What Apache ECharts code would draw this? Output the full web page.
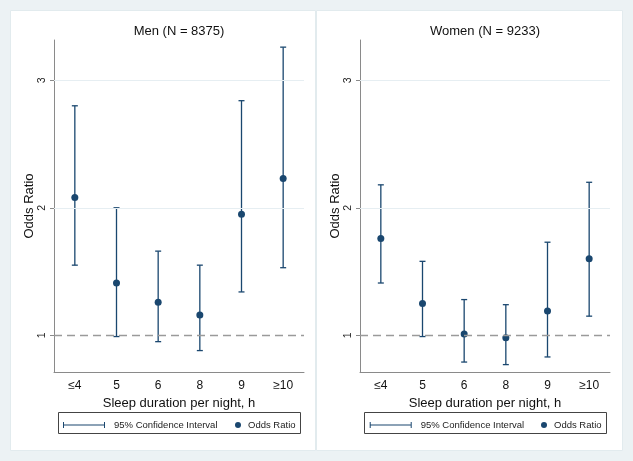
<!DOCTYPE html>
<html>
<head>
<meta charset="utf-8">
<script src="https://cdn.jsdelivr.net/npm/echarts@6/dist/echarts.min.js"></script>
<style>html,body{margin:0;padding:0;background:#ecf2f4;}#c{width:633px;height:461px;}</style>
</head>
<body>
<div id="c"></div>
<script>
const categories = ['≤4', '5', '6', '8', '9', '≥10'];
const menOR    = [2.08, 1.41, 1.26, 1.16, 1.95, 2.23];
const menLower = [1.55, 0.99, 0.95, 0.88, 1.34, 1.53];
const menUpper = [2.80, 2.00, 1.66, 1.55, 2.84, 3.26];
const womenOR    = [1.76, 1.25, 1.01, 0.98, 1.19, 1.60];
const womenLower = [1.41, 0.99, 0.79, 0.77, 0.83, 1.15];
const womenUpper = [2.18, 1.58, 1.28, 1.24, 1.73, 2.20];
const yTicks = [1, 2, 3];

const FONT = 'Liberation Sans, Arial, sans-serif';
const NAVY = '#1a476f';
const ciIcon = 'path://M0,0h1v6h-1z M0,2.5h42v1h-42z M41,0h1v6h-1z';

function ciData(lo, hi) { return categories.map((c, i) => [i, lo[i], hi[i]]); }
function orData(v) { return categories.map((c, i) => [i, v[i]]); }

function renderErr(params, api) {
  const x = api.value(0), lo = api.value(1), hi = api.value(2);
  const a = api.coord([x, hi]), b = api.coord([x, lo]);
  const w = 3;
  const st = { stroke: NAVY, lineWidth: 1.3 };
  return { type: 'group', children: [
    { type: 'line', shape: { x1: a[0], y1: a[1], x2: b[0], y2: b[1] }, style: st },
    { type: 'line', shape: { x1: a[0] - w, y1: a[1], x2: a[0] + w, y2: a[1] }, style: st },
    { type: 'line', shape: { x1: b[0] - w, y1: b[1], x2: b[0] + w, y2: b[1] }, style: st }
  ]};
}

function xAx(gi) {
  return {
    type: 'category', gridIndex: gi, data: categories,
    axisLine: { lineStyle: { color: '#8a8a8a', width: 1 } },
    axisTick: { alignWithLabel: true, length: 4, lineStyle: { color: '#8a8a8a' } },
    axisLabel: { color: '#111', fontSize: 12, fontFamily: FONT, margin: 8 },
    name: 'Sleep duration per night, h', nameLocation: 'middle', nameGap: 23,
    nameTextStyle: { color: '#111', fontSize: 13, fontFamily: FONT },
    splitLine: { show: false }
  };
}
function yAx(gi) {
  return {
    type: 'value', gridIndex: gi, min: 0.712, max: 3.316,
    axisLine: { show: true, lineStyle: { color: '#8a8a8a', width: 1 } },
    axisTick: { show: true, length: 4, customValues: yTicks, lineStyle: { color: '#8a8a8a' } },
    axisLabel: { customValues: yTicks, rotate: 90, color: '#222', fontSize: 10.5, fontFamily: FONT, margin: 6 },
    splitLine: { show: false },
    name: 'Odds Ratio', nameLocation: 'middle', nameGap: 17, nameRotate: 90,
    nameTextStyle: { color: '#111', fontSize: 13, fontFamily: FONT }
  };
}
const refLines = {
  silent: true, symbol: 'none', label: { show: false },
  data: [
    { yAxis: 2, lineStyle: { color: '#e6eef2', type: 'solid', width: 1 } },
    { yAxis: 3, lineStyle: { color: '#e6eef2', type: 'solid', width: 1 } },
    { yAxis: 1, lineStyle: { color: '#9a9a9a', type: [8, 5], width: 1.4 } }
  ]
};

function legendPair(ciLeft, dotLeft) {
  return [
    { left: ciLeft, top: 420, padding: 0, itemWidth: 42, itemHeight: 6, selectedMode: false,
      data: [{ name: '95% Confidence Interval', icon: ciIcon }],
      textStyle: { fontSize: 9.5, fontFamily: FONT, color: '#222', padding: [0, 0, 0, 4] } },
    { left: dotLeft, top: 420, padding: 0, itemWidth: 6, itemHeight: 6, selectedMode: false,
      data: [{ name: 'Odds Ratio', icon: 'circle' }],
      textStyle: { fontSize: 9.5, fontFamily: FONT, color: '#222', padding: [0, 0, 0, 2] } }
  ];
}

const chart = echarts.init(document.getElementById('c'), null, { renderer: 'canvas' });
chart.setOption({
  backgroundColor: '#ecf2f4',
  animation: false,
  graphic: [
    { type: 'rect', z: -10, shape: { x: 10.5, y: 10.5, width: 305, height: 440 }, style: { fill: '#fff', stroke: '#e2ebee', lineWidth: 1 } },
    { type: 'rect', z: -10, shape: { x: 316.5, y: 10.5, width: 306, height: 440 }, style: { fill: '#fff', stroke: '#e2ebee', lineWidth: 1 } },
    { type: 'rect', z: -5, shape: { x: 58.5, y: 412.5, width: 242, height: 21 }, style: { fill: '#fff', stroke: '#444', lineWidth: 1 } },
    { type: 'rect', z: -5, shape: { x: 364.5, y: 412.5, width: 242, height: 21 }, style: { fill: '#fff', stroke: '#444', lineWidth: 1 } }
  ],
  title: [
    { text: 'Men (N = 8375)', left: 179, top: 25, padding: 0, textAlign: 'center',
      textStyle: { fontSize: 13, fontWeight: 'normal', color: '#111', fontFamily: FONT } },
    { text: 'Women (N = 9233)', left: 485, top: 25, padding: 0, textAlign: 'center',
      textStyle: { fontSize: 13, fontWeight: 'normal', color: '#111', fontFamily: FONT } }
  ],
  legend: [...legendPair(63, 235), ...legendPair(369.7, 541)],
  grid: [
    { left: 54, top: 40, width: 250, height: 332 },
    { left: 360, top: 40, width: 250, height: 332 }
  ],
  xAxis: [xAx(0), xAx(1)],
  yAxis: [yAx(0), yAx(1)],
  series: [
    { name: '95% Confidence Interval', type: 'custom', xAxisIndex: 0, yAxisIndex: 0,
      itemStyle: { color: NAVY }, renderItem: renderErr, encode: { x: 0, y: [1, 2] },
      data: ciData(menLower, menUpper), z: 3 },
    { name: 'Odds Ratio', type: 'scatter', xAxisIndex: 0, yAxisIndex: 0, symbolSize: 7,
      itemStyle: { color: NAVY, opacity: 1 }, data: orData(menOR), z: 4, markLine: refLines },
    { name: '95% Confidence Interval', type: 'custom', xAxisIndex: 1, yAxisIndex: 1,
      itemStyle: { color: NAVY }, renderItem: renderErr, encode: { x: 0, y: [1, 2] },
      data: ciData(womenLower, womenUpper), z: 3 },
    { name: 'Odds Ratio', type: 'scatter', xAxisIndex: 1, yAxisIndex: 1, symbolSize: 7,
      itemStyle: { color: NAVY, opacity: 1 }, data: orData(womenOR), z: 4, markLine: refLines }
  ]
});
</script>
</body>
</html>
